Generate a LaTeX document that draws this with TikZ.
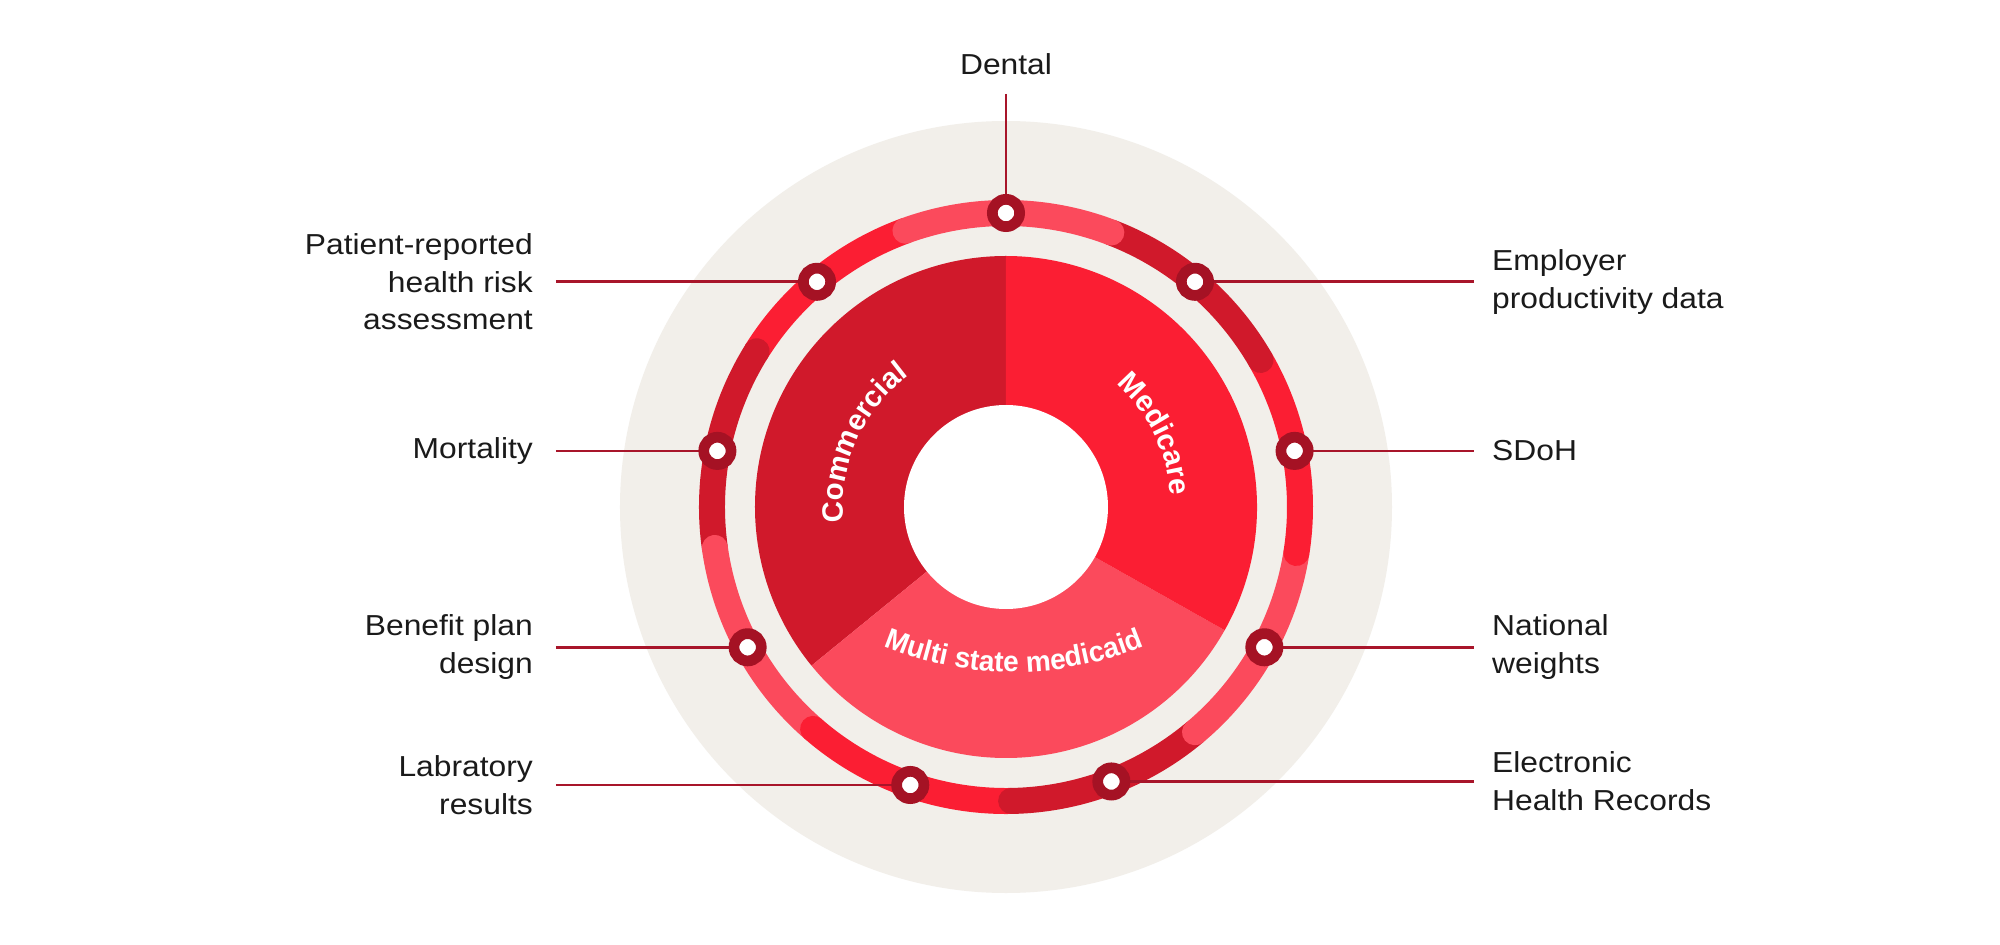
\documentclass[tikz,border=0pt]{standalone}
\usepackage{fontspec}
\setmainfont{Liberation Sans}
\newfontfamily\labfamily{Liberation Sans}[FakeStretch=1.1]
\newfontfamily\piefamily{Liberation Sans}[FakeStretch=1.0]
\newfontfamily\piefamilyn{Liberation Sans}[FakeStretch=0.97]
\usetikzlibrary{decorations.text}
\definecolor{beige}{HTML}{F2EFEA}
\definecolor{rdark}{HTML}{D0192B}
\definecolor{rbright}{HTML}{FB1E33}
\definecolor{rpink}{HTML}{FB4A5C}
\definecolor{markc}{HTML}{A51224}
\definecolor{leadc}{HTML}{A8152A}
\definecolor{ink}{HTML}{1A1A1A}
\newcommand{\pielab}{\piefamily\bfseries\fontsize{29.5}{30}\selectfont}
\newcommand{\pielabn}{\piefamilyn\bfseries\fontsize{29}{30}\selectfont}
\tikzset{
  ringseg/.style={line width=26bp, line cap=round},
  marknode/.style={circle, fill=white, draw=markc, line width=10.7bp, minimum size=27.3bp, inner sep=0pt},
  lead/.style={draw=leadc, line width=2.8bp},
  lab/.style={text=ink, inner sep=0pt, font=\labfamily\fontsize{29}{38}\selectfont},
  labl/.style={lab, anchor=east, align=right},
  labr/.style={lab, anchor=west, align=left},
  pietext/.style={decorate, decoration={text along path, text align=center, text color=white, text={#1}}}
}
\begin{document}
\begin{tikzpicture}[x=1bp,y=1bp]
\useasboundingbox (-1006,-438) rectangle (994,507);
\fill[white] (-1006,-438) rectangle (994,507);
% background disc
\fill[beige] (0,0) circle[radius=386bp];
% pie
\fill[rdark] (0,0) -- (90:251bp) arc[start angle=90,end angle=219.2,radius=251bp] -- cycle;
\fill[rpink] (0,0) -- (219.2:251bp) arc[start angle=219.2,end angle=330.6,radius=251bp] -- cycle;
\fill[rbright] (0,0) -- (-29.4:251bp) arc[start angle=-29.4,end angle=90,radius=251bp] -- cycle;
\fill[white] (0,0) circle[radius=102bp];
% pie labels
\path[pietext={|\pielab|Commercial}] (206:163bp) arc[start angle=206,end angle=106,radius=163bp];
\path[pietext={|\pielab|Medicare}] (76:165bp) arc[start angle=76,end angle=-24,radius=165bp];
\path[shift={(8,175)}, pietext={|\pielabn|Multi state medicaid}] (238:340bp) arc[start angle=238,end angle=302,radius=340bp];
% ring segments
\draw[ringseg, rbright] (110:294bp) arc[start angle=110,end angle=148,radius=294bp];
\draw[ringseg, rdark]   (148:294bp) arc[start angle=148,end angle=188,radius=294bp];
\draw[ringseg, rpink]   (188:294bp) arc[start angle=188,end angle=229,radius=294bp];
\draw[ringseg, rbright] (229:294bp) arc[start angle=229,end angle=271,radius=294bp];
\draw[ringseg, rdark]   (271:294bp) arc[start angle=271,end angle=310,radius=294bp];
\draw[ringseg, rpink]   (310:294bp) arc[start angle=310,end angle=351,radius=294bp];
\draw[ringseg, rbright] (351:294bp) arc[start angle=351,end angle=390,radius=294bp];
\draw[ringseg, rdark]   (30:294bp) arc[start angle=30,end angle=69,radius=294bp];
\draw[ringseg, rpink]   (69:294bp) arc[start angle=69,end angle=110,radius=294bp];
% marker positions
\coordinate (pDental) at (90:294bp);
\coordinate (pPatient) at (130:294bp);
\coordinate (pEmployer) at (50:294bp);
\coordinate (pMortality) at (169:294bp);
\coordinate (pSDoH) at (11:294bp);
\coordinate (pBenefit) at (208.5:294bp);
\coordinate (pNational) at (-28.5:294bp);
\coordinate (pLab) at (251:294bp);
\coordinate (pElectronic) at (-69:294bp);
% line ends and label edges
\coordinate (lEnd) at (-450,0);
\coordinate (rEnd) at (468,0);
\coordinate (lText) at (-473,0);
\coordinate (rText) at (486,0);
\coordinate (dTop) at (0,413);
% leader lines
\draw[lead] (dTop) -- (pDental);
\draw[lead] (pPatient -| lEnd) -- (pPatient);
\draw[lead] (pMortality -| lEnd) -- (pMortality);
\draw[lead] (pBenefit -| lEnd) -- (pBenefit);
\draw[lead] (pLab -| lEnd) -- (pLab);
\draw[lead] (pEmployer) -- (pEmployer -| rEnd);
\draw[lead] (pSDoH) -- (pSDoH -| rEnd);
\draw[lead] (pNational) -- (pNational -| rEnd);
\draw[lead] (pElectronic) -- (pElectronic -| rEnd);
% markers
\foreach \m in {Dental,Patient,Employer,Mortality,SDoH,Benefit,National,Lab,Electronic}
  \node[marknode] (m\m) at (p\m) {};
% labels
\node[lab, anchor=base] (tDental) at (0,432) {Dental};
\node[labl] (tPatient) at (pPatient -| lText) {Patient-reported\\health risk\\assessment};
\node[labl] (tMortality) at (pMortality -| lText) {Mortality};
\node[labl] (tBenefit) at (pBenefit -| lText) {Benefit plan\\design};
\node[labl] (tLab) at (pLab -| lText) {Labratory\\results};
\node[labr] (tEmployer) at (pEmployer -| rText) {Employer\\productivity data};
\node[labr] (tSDoH) at (pSDoH -| rText) {SDoH};
\node[labr] (tNational) at (pNational -| rText) {National\\weights};
\node[labr] (tElectronic) at (pElectronic -| rText) {Electronic\\Health Records};
\end{tikzpicture}
\end{document}
